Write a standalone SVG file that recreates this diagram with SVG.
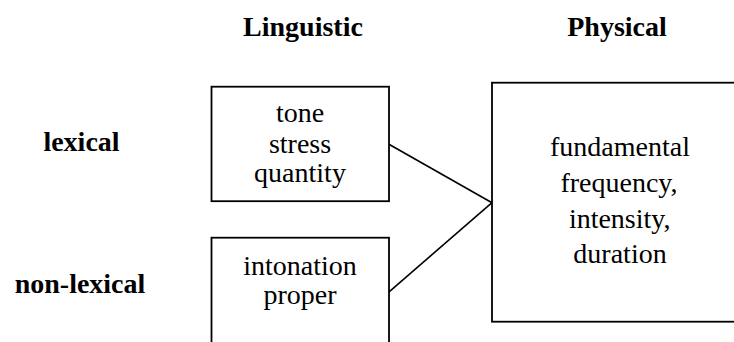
<svg xmlns="http://www.w3.org/2000/svg" width="734" height="342" viewBox="0 0 734 342">
<style>
.hd{font-family:"Liberation Serif","Times New Roman",serif;font-weight:bold;font-size:28px;fill:#000;text-anchor:middle}
.tx{font-family:"Liberation Serif","Times New Roman",serif;font-size:28px;fill:#000;text-anchor:middle}
.box{fill:#fff;stroke:#000;stroke-width:1.8}
.ln{stroke:#000;stroke-width:1.6;fill:none}
</style>
<rect width="734" height="342" fill="#fff"/>
<g id="headings">
<text class="hd" x="303" y="36">Linguistic</text>
<text class="hd" x="617" y="36">Physical</text>
<text class="hd" x="81.5" y="150.7">lexical</text>
<text class="hd" x="80" y="292.7">non-lexical</text>
</g>
<g id="connectors">
<line class="ln" x1="388.5" y1="144" x2="492" y2="202.7"/>
<line class="ln" x1="388.5" y1="292.3" x2="492" y2="202.7"/>
</g>
<g id="lexical-box">
<rect class="box" x="211.5" y="86.7" width="177.5" height="114.5"/>
<text class="tx" x="300" y="121.7">tone</text>
<text class="tx" x="300" y="153.3">stress</text>
<text class="tx" x="300" y="181.7">quantity</text>
</g>
<g id="nonlexical-box">
<rect class="box" x="211.5" y="237.7" width="177.5" height="120"/>
<text class="tx" x="300" y="275">intonation</text>
<text class="tx" x="300" y="304">proper</text>
</g>
<g id="physical-box">
<rect class="box" x="492" y="82.7" width="250" height="239"/>
<text class="tx" x="620" y="156">fundamental</text>
<text class="tx" x="619" y="191.7">frequency,</text>
<text class="tx" x="619.7" y="228">intensity,</text>
<text class="tx" x="620" y="263.3">duration</text>
</g>
</svg>
